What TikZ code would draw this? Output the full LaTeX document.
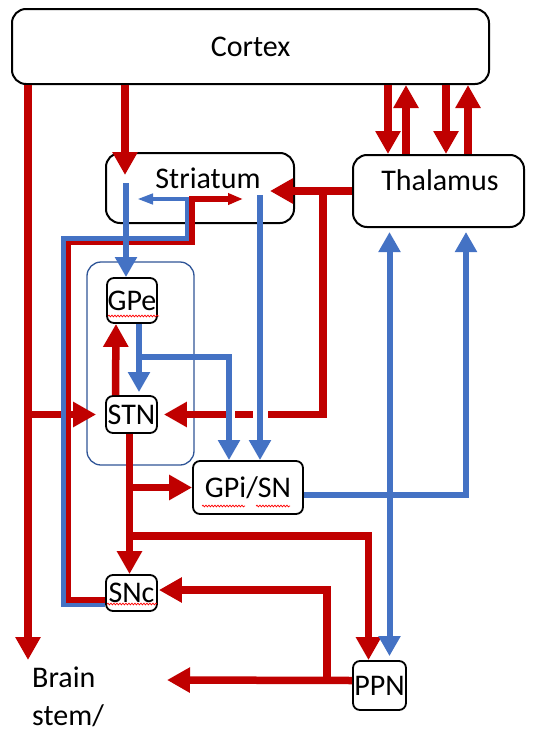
\documentclass[tikz,border=0pt]{standalone}
\usepackage{fontspec}
\setmainfont{Carlito}
\usetikzlibrary{arrows.meta, positioning, calc, decorations.pathmorphing}
\definecolor{cRed}{RGB}{192,0,0}
\definecolor{cBlue}{RGB}{68,114,196}
\definecolor{cFrame}{RGB}{47,85,151}
\newcommand{\labfont}{\fontsize{30}{38}\selectfont}
\tikzset{
	region/.style ={rectangle, rounded corners=14pt, draw=black, line width=2pt, inner sep=0pt},
	nucleus/.style={rectangle, rounded corners=7pt, draw=black, line width=1.8pt, inner sep=0pt},
	frame/.style  ={rectangle, rounded corners=14pt, draw=cFrame, line width=1.3pt},
	% pathway styles
	exc/.style    ={cRed, line width=7.5pt, -{Triangle[length=23pt, width=24pt]}},
	inh/.style    ={cBlue, line width=6pt, -{Triangle[length=20pt, width=21pt]}},
	inhboth/.style={cBlue, line width=6pt, {Triangle[length=20pt, width=21pt]}-{Triangle[length=20pt, width=21pt]}},
	excthin/.style={cRed, line width=5.5pt, -{Triangle[length=15pt, width=11pt]}},
	inhthin/.style={cBlue, line width=4.5pt, -{Triangle[length=16pt, width=10pt]}},
	hopgap/.style ={draw=white, line width=9pt},
	squiggle/.style={red, line width=0.7pt, decorate, decoration={snake, amplitude=0.9pt, segment length=3pt}},
}
\begin{document}
\begin{tikzpicture}[x=1pt, y=-1pt, every node/.style={font=\labfont}]
	\useasboundingbox (0,0) rectangle (536,736);
	% regions
	\node[region, minimum width=477pt, minimum height=75pt] (cor) at (250.5,46.5) {Cortex};
	\node[region, minimum width=188pt, minimum height=70pt] (str) at (200,188) {};
	\node (strlab) at (208,178) {Striatum};
	\node[region, minimum width=171pt, minimum height=72pt] (thl) at (438.5,191) {};
	\node (thllab) at (440,180) {Thalamus};
	% nuclei
	\node[frame, minimum width=107pt, minimum height=203pt] (grp) at (140.5,363.5) {};
	\node[nucleus, minimum width=50pt, minimum height=45pt] (gpe) at (132,300.5) {GPe};
	\node[nucleus, minimum width=51pt, minimum height=37pt] (stn) at (131.5,414.5) {STN};
	\node[nucleus, minimum width=110pt, minimum height=53pt] (gpi) at (248,487.5) {GPi/SN};
	\node[nucleus, minimum width=51pt, minimum height=36pt] (snc) at (131.5,593) {SNc};
	\node[nucleus, minimum width=53pt, minimum height=49pt] (ppn) at (379.5,685.5) {PPN};
	\node[anchor=west, align=left, inner sep=0pt] (bst) at (32,697) {Brain\\stem/};
	% free ends
	\coordinate (bsv) at (28,660);
	\coordinate (bsh) at (167,680);
	\coordinate (cs) at (125,175);
	\coordinate (ts) at (270,191);
	\coordinate (sr) at (243,199);
	\coordinate (sl) at (137,199);
	\coordinate (s1) at (126,183);
	\coordinate (s2) at (260,195);

	% excitatory (red)
	\draw[exc] (28,0 |- cor.south) -- (bsv);
	\draw[exc] (28,0 |- stn.west) -- ([xshift=-9pt]stn.west);
	\draw[exc] (125,0 |- cor.south) -- (cs);
	\foreach \xd/\xu in {388/406, 446/468} {
		\draw[exc] (\xd,0 |- cor.south) -- (\xd,0 |- thl.north);
		\draw[exc] (\xu,0 |- thl.north) -- (\xu,0 |- cor.south);
	}
	\draw[exc] (thl.west) -- (ts);
	\draw[exc] (323,0 |- thl.west) |- ([xshift=6pt]stn.east);
	\draw[exc] ([xshift=-16pt]stn.north) -- ([xshift=-16pt]gpe.south);
	\draw[exc] ([xshift=-2pt]stn.south) -- ([xshift=-2pt]snc.north);
	\draw[exc] (129.5,0 |- gpi.west) -- (gpi.west);
	\draw[exc] (129.5,536) -| ([xshift=-11pt]ppn.north);
	\draw[exc] ([yshift=5pt]ppn.west) -- (bsh);
	\draw[exc] (327,0 |- bsh) |- ([yshift=3pt,xshift=1pt]snc.east);

	% dopamine loop between SNc and striatum
	\draw[excthin] ([yshift=-7pt]snc.west) -| (68,242.5) -| (192,199) -- (sr);
	\draw[inhthin] ([yshift=-12pt]snc.west) -| (63.5,238.5) -| (187,199) -- (sl);

	% line hops
	\draw[hopgap] (227,414.5) -- (235,414.5);
	\draw[hopgap] (253,414.5) -- (268,414.5);

	% inhibitory (blue)
	\draw[inh] (s1) -- ([xshift=-6pt]gpe.north);
	\draw[inh] (139,357) -| ([xshift=-19pt]gpi.north);
	\draw[inh] ([xshift=7pt]gpe.south) -- ([xshift=7.5pt,yshift=3pt]stn.north);
	\draw[inh] (s2) -- ([xshift=12pt]gpi.north);
	\draw[inh] ([yshift=-7.5pt]gpi.east) -| ([xshift=27.5pt,yshift=-4pt]thl.south);
	\draw[inhboth] ([xshift=-49pt,yshift=-4pt]thl.south) -- ([xshift=10pt,yshift=4pt]ppn.north);

	% spell-check marks
	\draw[squiggle] (108,316) -- (159,316);
	\draw[squiggle] (202,506) -- (245,506);
	\draw[squiggle] (256,506) -- (290,506);
	\draw[squiggle] (107,604) -- (157,604);
\end{tikzpicture}
\end{document}
